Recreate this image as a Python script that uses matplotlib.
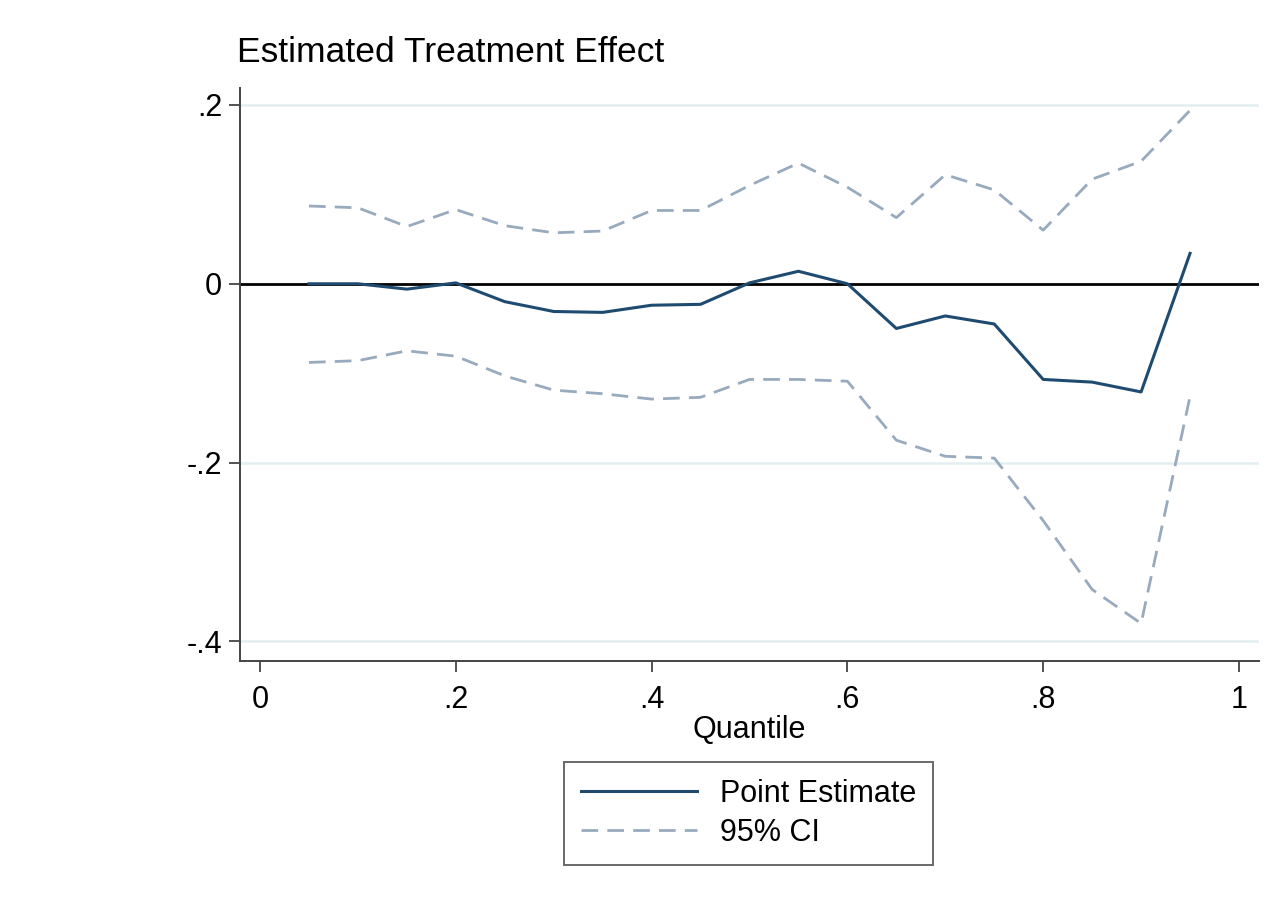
import matplotlib
matplotlib.use("Agg")
import matplotlib.pyplot as plt

# quantiles and estimates
quantiles = [0.05, 0.10, 0.15, 0.20, 0.25, 0.30, 0.35, 0.40, 0.45, 0.50,
             0.55, 0.60, 0.65, 0.70, 0.75, 0.80, 0.85, 0.90, 0.95]
point_est = [0.000, 0.000, -0.006, 0.001, -0.020, -0.031, -0.032, -0.024, -0.023, 0.001,
             0.014, 0.000, -0.050, -0.036, -0.045, -0.107, -0.110, -0.121, 0.034]
ci_upper = [0.087, 0.085, 0.064, 0.083, 0.065, 0.057, 0.059, 0.082, 0.082, 0.110,
            0.135, 0.108, 0.074, 0.122, 0.105, 0.060, 0.117, 0.137, 0.194]
ci_lower = [-0.088, -0.086, -0.075, -0.081, -0.103, -0.119, -0.123, -0.129, -0.127, -0.107,
            -0.107, -0.109, -0.175, -0.193, -0.195, -0.265, -0.342, -0.380, -0.126]

x_ticks = [0, 0.2, 0.4, 0.6, 0.8, 1]
x_labels = ["0", ".2", ".4", ".6", ".8", "1"]
y_ticks = [-0.4, -0.2, 0, 0.2]
y_labels = ["-.4", "-.2", "0", ".2"]

plt.rcParams['font.family'] = ['Liberation Sans', 'DejaVu Sans']

fig = plt.figure(figsize=(12.81, 8.98), dpi=100)
ax = fig.add_axes([0.1874, 0.2639, 0.7954, 0.6381])

navy = "#1f4b70"
ci_col = "#98aabd"
dash = (0, (6, 3.3))

# grid lines
for y in y_ticks:
    ax.axhline(y, color="#e3eef0", lw=1.8, zorder=0)
ax.axhline(0, color="black", lw=2, zorder=1)

ax.plot(quantiles, point_est, color=navy, lw=2.2, label="Point Estimate", zorder=3)
ax.plot(quantiles, ci_upper, color=ci_col, lw=2, ls=dash, label="95% CI", zorder=2)
ax.plot(quantiles, ci_lower, color=ci_col, lw=2, ls=dash, zorder=2)

ax.set_xlim(-0.0204, 1.0204)
ax.set_ylim(-0.422, 0.219)
ax.set_xticks(x_ticks)
ax.set_xticklabels(x_labels)
ax.set_yticks(y_ticks)
ax.set_yticklabels(y_labels)
ax.tick_params(axis="both", labelsize=22, length=8, width=1.3, color="#444444")
ax.tick_params(axis="x", pad=9)
ax.tick_params(axis="y", pad=5)

for side in ["top", "right"]:
    ax.spines[side].set_visible(False)
for side in ["left", "bottom"]:
    ax.spines[side].set_color("#444444")
    ax.spines[side].set_linewidth(1.4)

ax.set_xlabel("Quantile", fontsize=22, labelpad=0)
fig.text(0.185, 0.941, "Estimated Treatment Effect", fontsize=25.5, ha="left", va="center")

leg = fig.legend(loc="upper center", bbox_to_anchor=(0.5845, 0.1514), fontsize=22,
                 frameon=True, fancybox=False, edgecolor="#444444", handlelength=3.8,
                 borderpad=0.55, labelspacing=0.3, handletextpad=0.75, borderaxespad=0)
leg.get_frame().set_linewidth(1.4)

fig.savefig("out.png", dpi=100)
